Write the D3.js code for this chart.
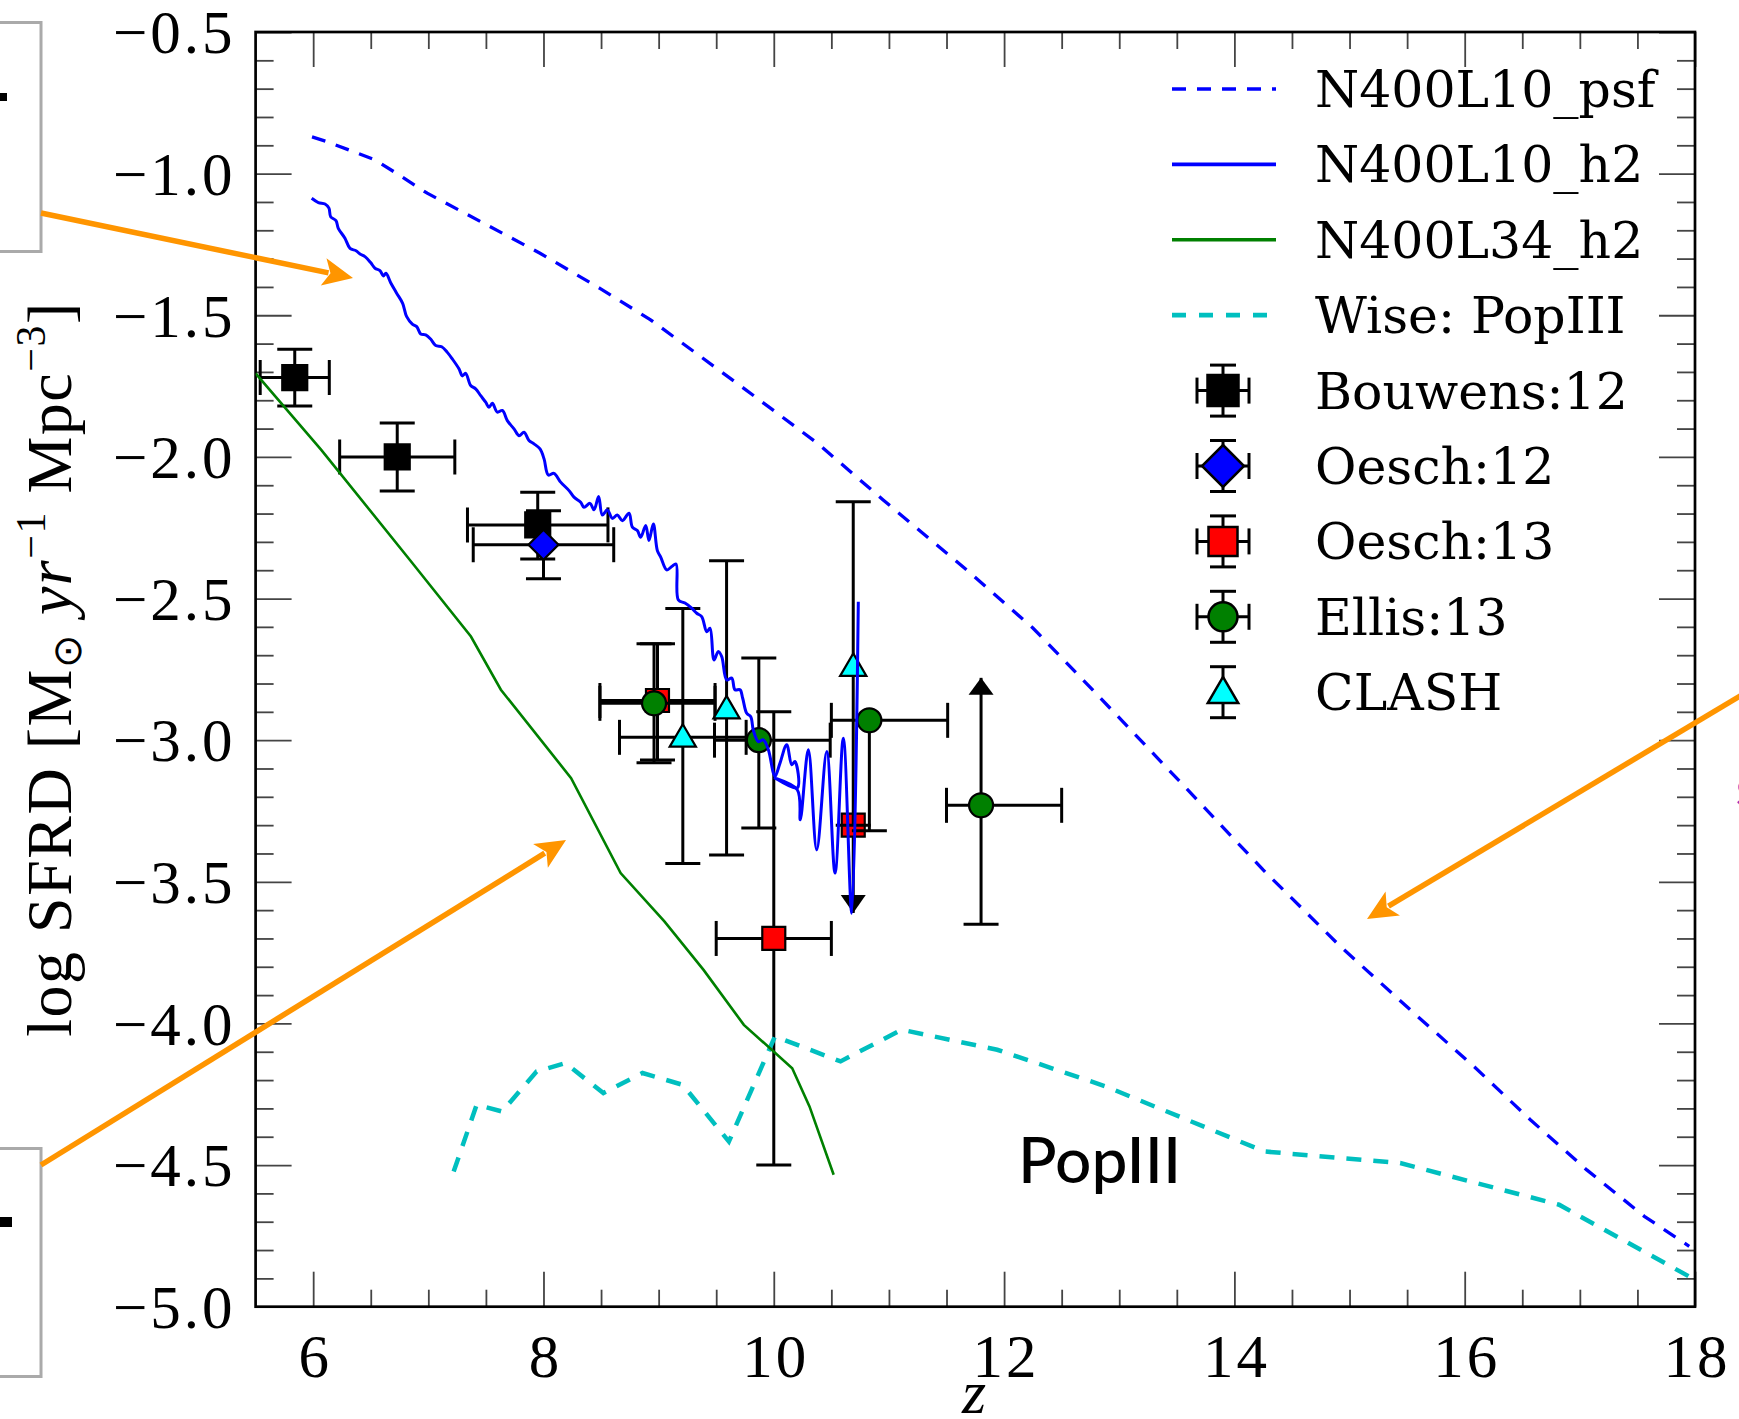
<!DOCTYPE html>
<html>
<head>
<meta charset="utf-8">
<script src="https://cdn.jsdelivr.net/npm/d3@7"></script>
<style>
  body { margin: 0; background: #fff; }
</style>
</head>
<body>
<div id="chart"></div>
<script>
// model curves (redshift, log SFRD)
var psfZ = [5.99, 6.12, 6.54, 6.70, 6.99, 7.48, 7.97, 8.49, 8.93, 9.74, 10.38, 10.95, 11.68, 12.25, 12.78, 13.54, 14.25, 14.92, 15.59, 16.08, 16.57, 17.06, 17.56, 17.95];
var psfSFRD = [-0.870, -0.887, -0.952, -0.993, -1.069, -1.175, -1.281, -1.405, -1.516, -1.758, -1.952, -2.152, -2.401, -2.604, -2.827, -3.152, -3.458, -3.728, -3.975, -4.152, -4.340, -4.517, -4.681, -4.787];

var h2Z = [5.987, 6.045, 6.103, 6.137, 6.152, 6.198, 6.218, 6.276, 6.320, 6.372,
  6.407, 6.450, 6.499, 6.537, 6.580, 6.609, 6.632, 6.673, 6.725, 6.777,
  6.812, 6.861, 6.899, 6.934, 6.977, 7.020, 7.064, 7.116, 7.165, 7.208,
  7.266, 7.295, 7.324, 7.368, 7.411, 7.455, 7.498, 7.527, 7.556, 7.599,
  7.643, 7.686, 7.744, 7.788, 7.831, 7.874, 7.918, 7.970, 8.005, 8.042,
  8.091, 8.149, 8.222, 8.265, 8.323, 8.352, 8.404, 8.439, 8.479, 8.511,
  8.555, 8.598, 8.641, 8.685, 8.743, 8.772, 8.815, 8.844, 8.888, 8.916,
  8.954, 8.989, 9.018, 9.070, 9.114, 9.151, 9.171, 9.229, 9.287, 9.331,
  9.374, 9.418, 9.446, 9.481, 9.518, 9.548, 9.591, 9.635, 9.663, 9.707,
  9.730, 9.765, 9.800, 9.822, 9.866, 9.909, 9.953, 9.996, 10.011, 10.054,
  10.112, 10.156, 10.184, 10.204, 10.011, 10.204, 10.230, 10.300, 10.373, 10.460,
  10.532, 10.604, 10.677, 10.734];
var h2SFRD = [-1.087, -1.102, -1.107, -1.122, -1.152, -1.166, -1.193, -1.228, -1.264, -1.272,
  -1.284, -1.293, -1.314, -1.334, -1.342, -1.361, -1.352, -1.385, -1.422, -1.458,
  -1.505, -1.531, -1.540, -1.566, -1.569, -1.584, -1.607, -1.611, -1.631, -1.654,
  -1.689, -1.714, -1.705, -1.748, -1.760, -1.784, -1.807, -1.825, -1.811, -1.842,
  -1.836, -1.872, -1.901, -1.925, -1.913, -1.942, -1.954, -1.972, -2.007, -2.064,
  -2.058, -2.089, -2.119, -2.142, -2.160, -2.178, -2.164, -2.187, -2.140, -2.205,
  -2.187, -2.217, -2.205, -2.225, -2.199, -2.248, -2.260, -2.284, -2.242, -2.295,
  -2.237, -2.331, -2.354, -2.399, -2.387, -2.378, -2.505, -2.516, -2.534, -2.552,
  -2.564, -2.617, -2.605, -2.717, -2.687, -2.705, -2.787, -2.781, -2.822, -2.822,
  -2.852, -2.905, -2.917, -2.964, -3.005, -2.999, -3.034, -3.116, -3.128, -3.081,
  -3.016, -3.087, -3.075, -3.169, -3.134, -3.175, -3.281, -3.034, -3.387, -3.040,
  -3.469, -2.993, -3.611, -2.511];

var l34Z = [5.50, 6.07, 6.84, 7.37, 7.63, 8.24, 8.67, 9.05, 9.39, 9.74, 10.16, 10.31, 10.52];
var l34SFRD = [-1.705, -1.975, -2.364, -2.634, -2.822, -3.134, -3.469, -3.640, -3.811, -4.005, -4.158, -4.293, -4.534];

var wiseZ = [7.22, 7.42, 7.64, 7.94, 8.19, 8.52, 8.86, 9.21, 9.61, 10.01, 10.58, 11.11, 11.94, 12.88, 14.26, 15.44, 16.82, 18.00];
var wiseSFRD = [-4.523, -4.287, -4.311, -4.170, -4.140, -4.246, -4.175, -4.217, -4.417, -4.046, -4.134, -4.022, -4.093, -4.222, -4.452, -4.493, -4.640, -4.905];

// observations: z, log SFRD, z errors (low/high), SFRD errors (low/high), limit (-1 upper, 1 lower)
var bouwensZ = [5.84, 6.73, 7.95];
var bouwensSFRD = [-1.72, -2.00, -2.24];
var bouwensZlo = [0.30, 0.50, 0.61], bouwensZhi = [0.30, 0.50, 0.61];
var bouwensSlo = [0.10, 0.12, 0.12], bouwensShi = [0.10, 0.12, 0.115];

var oesch12Z = [8.00];
var oesch12SFRD = [-2.31];
var oesch12Zlo = [0.61], oesch12Zhi = [0.61];
var oesch12Slo = [0.12], oesch12Shi = [0.12];

var oesch13Z = [8.99, 10.00, 10.69];
var oesch13SFRD = [-2.86, -3.70, -3.30];
var oesch13Zlo = [0.50, 0.50, 0], oesch13Zhi = [0.50, 0.50, 0];
var oesch13Slo = [0.21, 0.80, 0.31], oesch13Shi = [0.20, 0.80, 0];
var oesch13Lim = [0, 0, -1];

var ellisZ = [8.96, 9.87, 10.83, 11.80];
var ellisSFRD = [-2.87, -3.00, -2.93, -3.23];
var ellisZlo = [0.47, 0.385, 0.33, 0.30], ellisZhi = [0.53, 0.62, 0.68, 0.70];
var ellisSlo = [0.21, 0.31, 0.39, 0.42], ellisShi = [0.21, 0.29, 0, 0.45];
var ellisLim = [0, 0, 0, 1];

var clashZ = [9.21, 9.59, 10.69];
var clashSFRD = [-2.99, -2.89, -2.74];
var clashZlo = [0.55, 0, 0], clashZhi = [0.55, 0, 0];
var clashSlo = [0.445, 0.515, 0.56], clashShi = [0.455, 0.523, 0.582];

var legendLabels = ['N400L10_psf', 'N400L10_h2', 'N400L34_h2', 'Wise: PopIII', 'Bouwens:12', 'Oesch:12', 'Oesch:13', 'Ellis:13', 'CLASH'];
var xTicks = [6, 8, 10, 12, 14, 16, 18];
var yTicks = [-5.0, -4.5, -4.0, -3.5, -3.0, -2.5, -2.0, -1.5, -1.0, -0.5];

// layout (plot frame in page pixels)
var W = 1739, H = 1419;
var pLeft = 255.6, pRight = 1695, pTop = 32, pBottom = 1306.7;

var svg = d3.select('#chart').append('svg')
    .attr('width', W)
    .attr('height', H);

svg.append('rect').attr('width', W).attr('height', H).attr('fill', '#fff');

var x = d3.scaleLinear().domain([5.5, 18]).range([pLeft, pRight]);
var y = d3.scaleLinear().domain([-5, -0.5]).range([pBottom, pTop]);

var xMinor = d3.range(6.5, 18, 0.5).filter(function (v) { return v % 2 !== 0; });
var yMinor = d3.range(-49, -5, 1).map(function (v) { return v / 10; }).filter(function (v) { return Math.round(v * 10) % 5 !== 0; });

function cleanAxis(g) {
    g.select('.domain').remove();
    g.selectAll('.tick line').attr('stroke', '#444').attr('stroke-width', 1.8);
}

// bottom axis
svg.append('g')
    .attr('transform', 'translate(0,' + pBottom + ')')
    .call(d3.axisBottom(x).tickValues(xTicks).tickSize(-35).tickFormat(d3.format('d')))
    .call(cleanAxis)
    .call(function (g) {
        g.selectAll('text').attr('y', 70).attr('dy', 0).attr('dx', 1.5)
            .attr('letter-spacing', 3)
            .attr('font-family', 'Liberation Serif').attr('font-size', 61).attr('fill', '#000');
    });
svg.append('g').attr('transform', 'translate(0,' + pBottom + ')')
    .call(d3.axisBottom(x).tickValues(xMinor).tickSize(-17).tickFormat(''))
    .call(cleanAxis);
// top axis
svg.append('g').attr('transform', 'translate(0,' + pTop + ')')
    .call(d3.axisTop(x).tickValues(xTicks).tickSize(-35).tickFormat(''))
    .call(cleanAxis);
svg.append('g').attr('transform', 'translate(0,' + pTop + ')')
    .call(d3.axisTop(x).tickValues(xMinor).tickSize(-17).tickFormat(''))
    .call(cleanAxis);
// left axis
svg.append('g')
    .attr('transform', 'translate(' + pLeft + ',0)')
    .call(d3.axisLeft(y).tickValues(yTicks).tickSize(-36).tickFormat(d3.format('.1f')))
    .call(cleanAxis)
    .call(function (g) {
        g.selectAll('text').attr('x', -20).attr('dy', '0.34em')
            .attr('letter-spacing', 3)
            .attr('font-family', 'Liberation Serif').attr('font-size', 61).attr('fill', '#000');
    });
svg.append('g').attr('transform', 'translate(' + pLeft + ',0)')
    .call(d3.axisLeft(y).tickValues(yMinor).tickSize(-18).tickFormat(''))
    .call(cleanAxis);
// right axis
svg.append('g').attr('transform', 'translate(' + pRight + ',0)')
    .call(d3.axisRight(y).tickValues(yTicks).tickSize(-36).tickFormat(''))
    .call(cleanAxis);
svg.append('g').attr('transform', 'translate(' + pRight + ',0)')
    .call(d3.axisRight(y).tickValues(yMinor).tickSize(-18).tickFormat(''))
    .call(cleanAxis);

// frame
svg.append('rect')
    .attr('x', pLeft).attr('y', pTop)
    .attr('width', pRight - pLeft).attr('height', pBottom - pTop)
    .attr('fill', 'none').attr('stroke', '#000').attr('stroke-width', 2.7);

// axis labels
svg.append('text')
    .attr('x', 974).attr('y', 1413)
    .attr('text-anchor', 'middle')
    .attr('font-family', 'Liberation Serif').attr('font-style', 'italic').attr('font-size', 62)
    .text('z');

var ylab = svg.append('text')
    .attr('transform', 'translate(71,669) rotate(-90)')
    .attr('text-anchor', 'middle')
    .attr('font-family', 'Liberation Serif').attr('font-size', 64)
    .attr('letter-spacing', 1.5);
ylab.append('tspan').text('log SFRD [M');
ylab.append('tspan').attr('font-size', 40).attr('dy', 10).text('\u2299');
ylab.append('tspan').attr('dy', -10).attr('font-style', 'italic').text(' yr');
ylab.append('tspan').attr('font-size', 42).attr('dy', -26).text('\u22121');
ylab.append('tspan').attr('dy', 26).text(' Mpc');
ylab.append('tspan').attr('font-size', 42).attr('dy', -26).text('\u22123');
ylab.append('tspan').attr('dy', 26).text(']');

// clip for plot content
svg.append('clipPath').attr('id', 'plotclip')
    .append('rect').attr('x', pLeft).attr('y', pTop).attr('width', pRight - pLeft).attr('height', pBottom - pTop);
var plot = svg.append('g').attr('clip-path', 'url(#plotclip)');

// build point objects
function pts(zs, ss, zlo, zhi, slo, shi, lim) {
    return zs.map(function (z, i) {
        return { z: z, s: ss[i], zlo: zlo[i], zhi: zhi[i], slo: slo[i], shi: shi[i], lim: lim ? lim[i] : 0 };
    });
}

var markerPath = {
    square: function (r) { return 'M' + (-r) + ',' + (-r) + 'H' + r + 'V' + r + 'H' + (-r) + 'Z'; },
    diamond: function (r) { return 'M0,' + (-r) + 'L' + r + ',0L0,' + r + 'L' + (-r) + ',0Z'; },
    circle: function (r) { return 'M' + (-r) + ',0A' + r + ',' + r + ' 0 1,0 ' + r + ',0A' + r + ',' + r + ' 0 1,0 ' + (-r) + ',0Z'; },
    triangle: function (r) { return 'M0,' + (-r * 1.05) + 'L' + (r * 1.05) + ',' + (r * 0.75) + 'L' + (-r * 1.05) + ',' + (r * 0.75) + 'Z'; }
};

function drawErrPoints(g, data, shape, size, fill) {
    var cap = 17.5;
    data.forEach(function (d) {
        var cx = x(d.z), cy = y(d.s);
        var e = g.append('g').attr('stroke', '#000').attr('stroke-width', 3).attr('fill', 'none');
        if (d.zlo || d.zhi) {
            var x0 = x(d.z - d.zlo), x1 = x(d.z + d.zhi);
            e.append('line').attr('x1', x0).attr('x2', x1).attr('y1', cy).attr('y2', cy);
            e.append('line').attr('x1', x0).attr('x2', x0).attr('y1', cy - cap).attr('y2', cy + cap);
            e.append('line').attr('x1', x1).attr('x2', x1).attr('y1', cy - cap).attr('y2', cy + cap);
        }
        var yTop = y(d.s + d.shi), yBot = y(d.s - d.slo);
        e.append('line').attr('x1', cx).attr('x2', cx).attr('y1', yTop).attr('y2', yBot);
        if (d.lim === 1) {
            // lower limit: arrow upward
            e.append('path').attr('fill', '#000').attr('stroke', 'none')
                .attr('d', 'M' + cx + ',' + yTop + 'l12.5,17l-25,0Z');
            e.append('line').attr('x1', cx - cap).attr('x2', cx + cap).attr('y1', yBot).attr('y2', yBot);
        } else if (d.lim === -1) {
            e.append('path').attr('fill', '#000').attr('stroke', 'none')
                .attr('d', 'M' + cx + ',' + yBot + 'l12.5,-18l-25,0Z');
        } else {
            if (d.shi) e.append('line').attr('x1', cx - cap).attr('x2', cx + cap).attr('y1', yTop).attr('y2', yTop);
            if (d.slo) e.append('line').attr('x1', cx - cap).attr('x2', cx + cap).attr('y1', yBot).attr('y2', yBot);
        }
        g.append('path')
            .attr('transform', 'translate(' + cx + ',' + cy + ')')
            .attr('d', markerPath[shape](size))
            .attr('fill', fill).attr('stroke', '#000').attr('stroke-width', 2.2);
    });
}

drawErrPoints(plot, pts(bouwensZ, bouwensSFRD, bouwensZlo, bouwensZhi, bouwensSlo, bouwensShi), 'square', 12.5, '#000');
drawErrPoints(plot, pts(oesch12Z, oesch12SFRD, oesch12Zlo, oesch12Zhi, oesch12Slo, oesch12Shi), 'diamond', 15, '#0000ff');
drawErrPoints(plot, pts(oesch13Z, oesch13SFRD, oesch13Zlo, oesch13Zhi, oesch13Slo, oesch13Shi, oesch13Lim), 'square', 11.5, '#ff0000');
drawErrPoints(plot, pts(ellisZ, ellisSFRD, ellisZlo, ellisZhi, ellisSlo, ellisShi, ellisLim), 'circle', 12, '#008000');
drawErrPoints(plot, pts(clashZ, clashSFRD, clashZlo, clashZhi, clashSlo, clashShi), 'triangle', 12.5, '#00ffff');

// model lines
var line = d3.line().x(function (d) { return x(d[0]); }).y(function (d) { return y(d[1]); });
var smoothLine = d3.line().curve(d3.curveCatmullRom.alpha(0.5))
    .x(function (d) { return x(d[0]); }).y(function (d) { return y(d[1]); });
function zip(a, b) { return a.map(function (v, i) { return [v, b[i]]; }); }

plot.append('path').datum(zip(wiseZ, wiseSFRD))
    .attr('d', line).attr('fill', 'none')
    .attr('stroke', '#00bfbf').attr('stroke-width', 4.5).attr('stroke-dasharray', '15,12');
plot.append('path').datum(zip(l34Z, l34SFRD))
    .attr('d', line).attr('fill', 'none')
    .attr('stroke', '#008000').attr('stroke-width', 2.6);
plot.append('path').datum(zip(psfZ, psfSFRD))
    .attr('d', line).attr('fill', 'none')
    .attr('stroke', '#0000ff').attr('stroke-width', 3.3).attr('stroke-dasharray', '14,11');
plot.append('path').datum(zip(h2Z, h2SFRD))
    .attr('d', smoothLine).attr('fill', 'none')
    .attr('stroke', '#0000ff').attr('stroke-width', 3).attr('stroke-linejoin', 'round');

// legend
var lgX = 1172, lgY0 = 89, lgDy = 75.4;
var legend = svg.append('g');
var lineStyles = [
    { c: '#0000ff', w: 3.6, dash: '14,11' },
    { c: '#0000ff', w: 3.6, dash: null },
    { c: '#008000', w: 3.6, dash: null },
    { c: '#00bfbf', w: 4.8, dash: '14,13' }
];
lineStyles.forEach(function (s, i) {
    legend.append('line')
        .attr('x1', lgX).attr('x2', lgX + 104)
        .attr('y1', lgY0 + i * lgDy).attr('y2', lgY0 + i * lgDy)
        .attr('stroke', s.c).attr('stroke-width', s.w)
        .attr('stroke-dasharray', s.dash);
});
var legMarkers = [
    { shape: 'square', size: 15.5, fill: '#000', xerr: true },
    { shape: 'diamond', size: 21, fill: '#0000ff', xerr: true },
    { shape: 'square', size: 14.5, fill: '#ff0000', xerr: true },
    { shape: 'circle', size: 14.5, fill: '#008000', xerr: true },
    { shape: 'triangle', size: 14.5, fill: '#00ffff', xerr: false }
];
legMarkers.forEach(function (m, i) {
    var cx = 1223, cy = lgY0 + (i + 4) * lgDy;
    var e = legend.append('g').attr('stroke', '#000').attr('stroke-width', 3);
    e.append('line').attr('x1', cx).attr('x2', cx).attr('y1', cy - 25.5).attr('y2', cy + 25.5);
    e.append('line').attr('x1', cx - 13).attr('x2', cx + 13).attr('y1', cy - 25.5).attr('y2', cy - 25.5);
    e.append('line').attr('x1', cx - 13).attr('x2', cx + 13).attr('y1', cy + 25.5).attr('y2', cy + 25.5);
    if (m.xerr) {
        e.append('line').attr('x1', cx - 26).attr('x2', cx + 26).attr('y1', cy).attr('y2', cy);
        e.append('line').attr('x1', cx - 26).attr('x2', cx - 26).attr('y1', cy - 13).attr('y2', cy + 13);
        e.append('line').attr('x1', cx + 26).attr('x2', cx + 26).attr('y1', cy - 13).attr('y2', cy + 13);
    }
    legend.append('path')
        .attr('transform', 'translate(' + cx + ',' + cy + ')')
        .attr('d', markerPath[m.shape](m.size))
        .attr('fill', m.fill).attr('stroke', '#000').attr('stroke-width', 2.5);
});
legend.selectAll('text.lab')
    .data(legendLabels)
    .enter().append('text')
    .attr('class', 'lab')
    .attr('x', 1315)
    .attr('y', function (d, i) { return lgY0 + i * lgDy + 18; })
    .attr('font-family', 'DejaVu Serif').attr('font-size', 50.5)
    .attr('fill', '#000')
    .text(function (d) { return d; });

// PopIII annotation
svg.append('text')
    .attr('x', 1018).attr('y', 1183)
    .attr('font-family', 'Lato').attr('font-size', 64).attr('font-weight', 500)
    .attr('fill', '#000')
    .text('PopIII');

// slide overlays: cut-off boxes and orange arrows
var over = svg.append('g');
over.append('rect').attr('x', -10).attr('y', 22.5).attr('width', 51).attr('height', 229)
    .attr('fill', '#fff').attr('stroke', '#aaa').attr('stroke-width', 3);
over.append('rect').attr('x', 0).attr('y', 93).attr('width', 7).attr('height', 8).attr('fill', '#000');
over.append('rect').attr('x', -10).attr('y', 1148.5).attr('width', 51).attr('height', 228)
    .attr('fill', '#fff').attr('stroke', '#aaa').attr('stroke-width', 3);
over.append('rect').attr('x', 0).attr('y', 1217).attr('width', 12).attr('height', 10).attr('fill', '#000');

var arrows = [
    [[41, 213], [353, 278]],
    [[41, 1165], [566, 840]],
    [[1745, 693], [1367, 919]]
];
arrows.forEach(function (a) {
    var dx = a[1][0] - a[0][0], dy = a[1][1] - a[0][1];
    var len = Math.sqrt(dx * dx + dy * dy), ux = dx / len, uy = dy / len;
    var hl = 30, hw = 14;
    var bx = a[1][0] - ux * hl, by = a[1][1] - uy * hl;
    over.append('line')
        .attr('x1', a[0][0]).attr('y1', a[0][1])
        .attr('x2', bx + ux * 5).attr('y2', by + uy * 5)
        .attr('stroke', '#ff9500').attr('stroke-width', 5.5);
    over.append('path')
        .attr('d', 'M' + a[1][0] + ',' + a[1][1] +
            'L' + (bx - uy * hw) + ',' + (by + ux * hw) +
            'L' + (bx + ux * 7) + ',' + (by + uy * 7) +
            'L' + (bx + uy * hw) + ',' + (by - ux * hw) + 'Z')
        .attr('fill', '#ff9500');
});
over.append('text').attr('x', 1736).attr('y', 806)
    .attr('font-family', 'Lato').attr('font-size', 36).attr('fill', '#9b30c0').text('S');
</script>
</body>
</html>
